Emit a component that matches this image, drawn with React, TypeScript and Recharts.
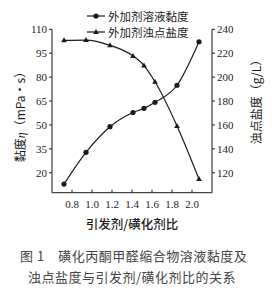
import { LineChart, Line, XAxis, YAxis } from 'recharts';

// ratio of initiator to sulfonating agent
const ratio = [0.72, 0.94, 1.18, 1.41, 1.52, 1.63, 1.85, 2.07];
// solution viscosity, mPa·s (left axis)
const viscosity = [12.9, 32.8, 48.9, 57.8, 60.4, 64.2, 74.9, 102.2];
// cloud point salinity, g/L (right axis)
const cloudSalt = [230.8, 231.0, 226.6, 217.7, 209.7, 196.1, 159.2, 114.7];

const xTicks = [0.8, 1.0, 1.2, 1.4, 1.6, 1.8, 2.0];
const leftTicks = [20, 35, 50, 65, 80, 95, 110];
const rightTicks = [120, 140, 160, 180, 200, 220, 240];

const seriesNames = ['外加剂溶液黏度', '外加剂浊点盐度'];

const data = ratio.map((r, i) => ({ ratio: r, viscosity: viscosity[i], salt: cloudSalt[i] }));

const INK = '#1a1a1a';
const numFont = { fontFamily: '"Liberation Serif", serif', fontSize: 11, fill: INK };
const cjk = '"Noto Sans CJK SC", sans-serif';

// eslint-disable-next-line @typescript-eslint/no-explicit-any
const CircleDot = ({ cx, cy, index }: any) => (
  <circle key={`c${index}`} cx={cx} cy={cy} r={2.6} fill={INK} stroke="none" />
);

// eslint-disable-next-line @typescript-eslint/no-explicit-any
const TriangleDot = ({ cx, cy, index }: any) => (
  <polygon
    key={`t${index}`}
    points={`${cx},${cy - 3} ${cx - 2.8},${cy + 2} ${cx + 2.8},${cy + 2}`}
    fill={INK}
    stroke="none"
  />
);

function LegendRow({ name, marker }: { name: string; marker: 'circle' | 'triangle' }) {
  return (
    <div style={{ display: 'flex', alignItems: 'center', height: 16 }}>
      <svg width={18} height={10} style={{ marginRight: 3 }}>
        <line x1={0} y1={5} x2={18} y2={5} stroke={INK} strokeWidth={1.2} />
        {marker === 'circle' ? (
          <circle cx={9} cy={5} r={2.6} fill={INK} />
        ) : (
          <polygon points="9,2 6.2,7 11.8,7" fill={INK} />
        )}
      </svg>
      <span style={{ fontFamily: cjk, fontSize: 11.5, color: INK, lineHeight: '14px' }}>{name}</span>
    </div>
  );
}

export default function App() {
  return (
    <div style={{ position: 'relative', width: 275, height: 291, background: '#fff', overflow: 'hidden' }}>
      <style>{`body{margin:0}`}</style>
      <LineChart
        width={275}
        height={291}
        data={data}
        margin={{ top: 29.3, right: 23, left: 12, bottom: 68.3 }}
      >
        <XAxis
          dataKey="ratio"
          type="number"
          domain={[0.6, 2.2]}
          ticks={xTicks}
          tickFormatter={(v: number) => v.toFixed(1)}
          allowDataOverflow
          height={30}
          stroke={INK}
          tickSize={-3}
          tickMargin={10}
          tick={numFont}
        />
        <YAxis
          yAxisId="left"
          domain={[7.5, 110]}
          ticks={leftTicks}
          allowDataOverflow
          width={40}
          stroke={INK}
          tickSize={3}
          tickMargin={2}
          tick={numFont}
        />
        <YAxis
          yAxisId="right"
          orientation="right"
          domain={[103.33, 240]}
          ticks={rightTicks}
          allowDataOverflow
          width={40}
          stroke={INK}
          tickSize={3}
          tickMargin={2}
          tick={numFont}
        />
        <Line
          yAxisId="left"
          dataKey="viscosity"
          name={seriesNames[0]}
          type="monotone"
          stroke={INK}
          strokeWidth={1.2}
          dot={CircleDot}
          activeDot={false}
          isAnimationActive={false}
        />
        <Line
          yAxisId="right"
          dataKey="salt"
          name={seriesNames[1]}
          type="monotone"
          stroke={INK}
          strokeWidth={1.2}
          dot={TriangleDot}
          activeDot={false}
          isAnimationActive={false}
        />
      </LineChart>

      {/* legend */}
      <div style={{ position: 'absolute', left: 87, top: 8 }}>
        <LegendRow name={seriesNames[0]} marker="circle" />
        <LegendRow name={seriesNames[1]} marker="triangle" />
      </div>

      {/* axis titles */}
      <div
        style={{
          position: 'absolute', left: 20, top: 114, transform: 'translate(-50%, -50%) rotate(-90deg)',
          whiteSpace: 'nowrap', fontFamily: cjk, fontSize: 12, color: INK,
        }}
      >
        黏度<i style={{ fontFamily: '"Liberation Serif", serif' }}>η</i>（mPa·s）
      </div>
      <div
        style={{
          position: 'absolute', left: 255, top: 99, transform: 'translate(-50%, -50%) rotate(-90deg)',
          whiteSpace: 'nowrap', fontFamily: cjk, fontSize: 12, color: INK,
        }}
      >
        浊点盐度（g/L）
      </div>
      <div
        style={{
          position: 'absolute', left: 132, top: 223, transform: 'translate(-50%, -50%)',
          whiteSpace: 'nowrap', fontFamily: cjk, fontSize: 12.5, color: INK, fontWeight: 500,
        }}
      >
        引发剂/磺化剂比
      </div>

      {/* caption */}
      <div
        style={{
          position: 'absolute', left: 20, top: 245, whiteSpace: 'nowrap',
          fontFamily: cjk, fontSize: 13, color: '#444', letterSpacing: 0.5, lineHeight: '21px',
        }}
      >
        <div>图 1　磺化丙酮甲醛缩合物溶液黏度及</div>
        <div style={{ paddingLeft: 8 }}>浊点盐度与引发剂/磺化剂比的关系</div>
      </div>
    </div>
  );
}
